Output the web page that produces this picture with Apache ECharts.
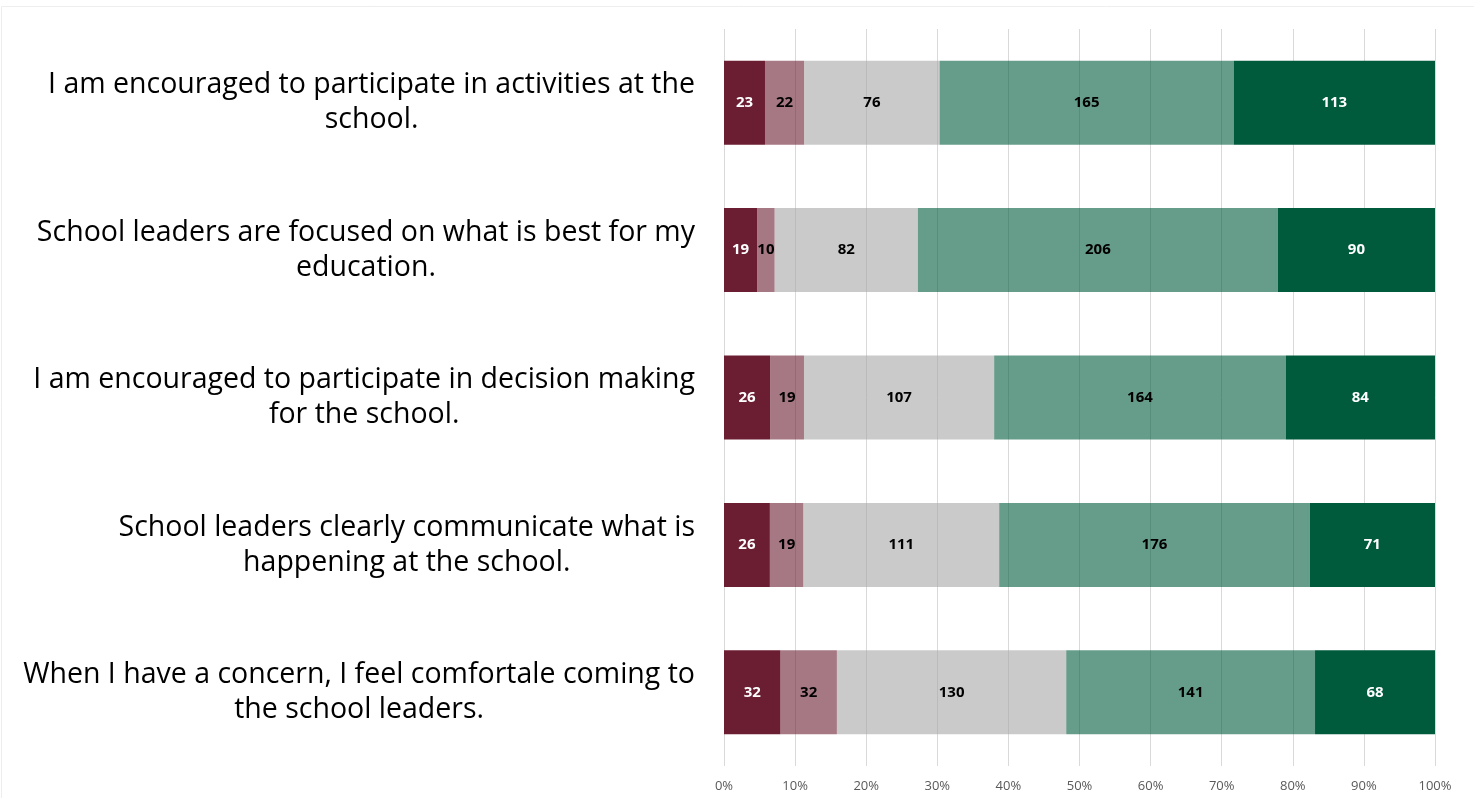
<!DOCTYPE html>
<html>
<head>
<meta charset="utf-8">
<script src="https://cdn.jsdelivr.net/npm/echarts@6/dist/echarts.min.js"></script>
<style>
  html, body { margin: 0; padding: 0; background: #fff; }
  #chart { width: 1474px; height: 798px; }
</style>
</head>
<body>
<div id="chart"></div>
<script>
// Survey statements (top to bottom)
const categories = [
  'I am encouraged to participate in activities at the\nschool.',
  'School leaders are focused on what is best for my\neducation.',
  'I am encouraged to participate in decision making\nfor the school.',
  'School leaders clearly communicate what is\nhappening at the school.',
  'When I have a concern, I feel comfortale coming to\nthe school leaders.'
];

// Response counts per statement
const stronglyDisagree = [23, 19, 26, 26, 32];
const disagree         = [22, 10, 19, 19, 32];
const neutral          = [76, 82, 107, 111, 130];
const agree            = [165, 206, 164, 176, 141];
const stronglyAgree    = [113, 90, 84, 71, 68];

const tickLabels = ['0%', '10%', '20%', '30%', '40%', '50%', '60%', '70%', '80%', '90%', '100%'];

const groups = [
  { name: 'Strongly disagree', data: stronglyDisagree, color: '#6B1E32', text: '#ffffff' },
  { name: 'Disagree',          data: disagree,         color: 'rgba(107,30,50,0.6)', text: '#000000' },
  { name: 'Neutral',           data: neutral,          color: 'rgba(166,166,166,0.6)', text: '#000000' },
  { name: 'Agree',             data: agree,            color: 'rgba(0,90,60,0.6)', text: '#000000' },
  { name: 'Strongly agree',    data: stronglyAgree,    color: '#005A3C', text: '#ffffff' }
];

const totals = categories.map((_, i) => groups.reduce((s, g) => s + g.data[i], 0));

const series = groups.map(g => ({
  name: g.name,
  type: 'bar',
  stack: 'all',
  barWidth: '57%',
  itemStyle: { color: g.color },
  label: {
    show: true,
    position: 'inside',
    color: g.text,
    fontFamily: 'Open Sans',
    fontWeight: 'bold',
    fontSize: 15,
    formatter: p => String(g.data[p.dataIndex])
  },
  data: g.data.map((v, i) => v / totals[i] * 100)
}));

const chart = echarts.init(document.getElementById('chart'));
chart.setOption({
  animation: false,
  graphic: [{
    type: 'rect',
    silent: true,
    shape: { x: 1.5, y: 6.5, width: 1490, height: 800 },
    style: { fill: 'none', stroke: '#eeeeee', lineWidth: 1 }
  }],
  grid: { left: 724, right: 39, top: 29, bottom: 32, containLabel: false },
  xAxis: {
    type: 'value',
    min: 0,
    max: 100,
    interval: 10,
    axisLine: { show: false },
    axisTick: { show: false },
    axisLabel: {
      margin: 14,
      color: '#595959',
      fontFamily: 'Open Sans',
      fontSize: 13,
      formatter: v => tickLabels[Math.round(v / 10)]
    },
    splitLine: { show: true, lineStyle: { color: '#d9d9d9', width: 1 } }
  },
  yAxis: {
    type: 'category',
    inverse: true,
    data: categories,
    axisLine: { show: false },
    axisTick: { show: false },
    axisLabel: {
      margin: 29,
      align: 'right',
      // each line centred within the right-aligned text block
      formatter: v => v.split('\n').map(line => '{c|' + line + '}').join('\n'),
      rich: {
        c: {
          align: 'center',
          color: '#000000',
          fontFamily: 'Open Sans',
          fontSize: 28.5,
          lineHeight: 35
        }
      }
    }
  },
  series: series
});
</script>
</body>
</html>
